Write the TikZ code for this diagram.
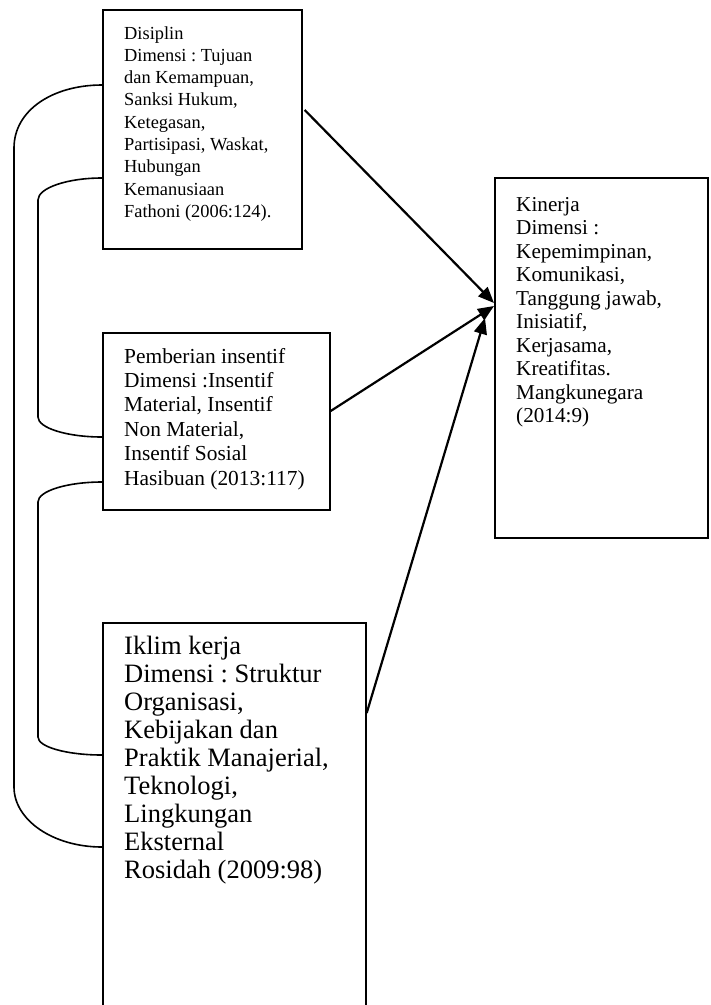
\documentclass[tikz,border=0pt]{standalone}
\usepackage{fontspec}
\setmainfont{Liberation Serif}
\usetikzlibrary{arrows.meta,calc}
\frenchspacing
\newcommand{\boxtext}[3]{\parbox[t]{300pt}{\raggedright\frenchspacing\fontsize{#1}{#2}\selectfont #3}}
\begin{document}
\begin{tikzpicture}[x=1pt,y=-1pt,
  box/.style={draw,line width=1.7pt,inner sep=0,anchor=north west},
  txt/.style={inner sep=0,anchor=base west},
  link/.style={line width=1.6pt},
  arr/.style={line width=2.2pt,-{Triangle[length=16pt,width=13pt]}}]
\clip (0,0) rectangle (711,1005);
\fill[white] (0,0) rectangle (711,1005);
% boxes
\node[box,minimum width=199pt,minimum height=239pt] (b1) at (102,9) {};
\node[box,minimum width=227pt,minimum height=177pt] (b2) at (102,332) {};
\node[box,minimum width=263pt,minimum height=398pt] (b3) at (102,622) {};
\node[box,minimum width=213pt,minimum height=360pt] (b4) at (494,177) {};
% texts
\node[txt] (t1) at (124,39) {\boxtext{18.4}{22.3}{Disiplin\\Dimensi : Tujuan\\dan Kemampuan,\\Sanksi Hukum,\\Ketegasan,\\Partisipasi, Waskat,\\Hubungan\\Kemanusiaan\\Fathoni (2006:124).}};
\node[txt] (t2) at (124,363) {\boxtext{21.4}{24.4}{Pemberian insentif\\Dimensi :Insentif\\Material, Insentif\\Non Material,\\Insentif Sosial\\Hasibuan (2013:117)}};
\node[txt] (t3) at (124,654) {\boxtext{26.5}{28.1}{Iklim kerja\\Dimensi : Struktur\\Organisasi,\\Kebijakan dan\\Praktik Manajerial,\\Teknologi,\\Lingkungan\\Eksternal\\Rosidah (2009:98)}};
\node[txt] (t4) at (516,211) {\boxtext{21.2}{23.5}{Kinerja\\Dimensi :\\Kepemimpinan,\\Komunikasi,\\Tanggung jawab,\\Inisiatif,\\Kerjasama,\\Kreatifitas.\\Mangkunegara\\(2014:9)}};
% left bracket connectors
\draw[link] ($(b1.north west)+(0,76)$) .. controls (53,85) and (14,110) .. (14,148)
  -- (14,787) .. controls (14,820) and (53,847) .. ($(b3.north west)+(0,225)$);
\draw[link] ($(b1.north west)+(0,169)$) .. controls (67,178) and (38,188) .. (38,200)
  -- (38,417) .. controls (38,428) and (67,437) .. ($(b2.north west)+(0,105)$);
\draw[link] ($(b2.north west)+(0,150)$) .. controls (67,482) and (38,491) .. (38,502)
  -- (38,737) .. controls (38,747) and (67,755) .. ($(b3.north west)+(0,133)$);
% arrows
\draw[arr] ($(b1.north east)+(2,101)$) -- ($(b4.north west)+(0,126)$);
\draw[arr] ($(b2.north east)+(0,79)$) -- ($(b4.north west)+(0,129)$);
\draw[arr] ($(b3.north east)+(0,91)$) -- ($(b4.north west)+(-9,141)$);
\end{tikzpicture}
\end{document}
